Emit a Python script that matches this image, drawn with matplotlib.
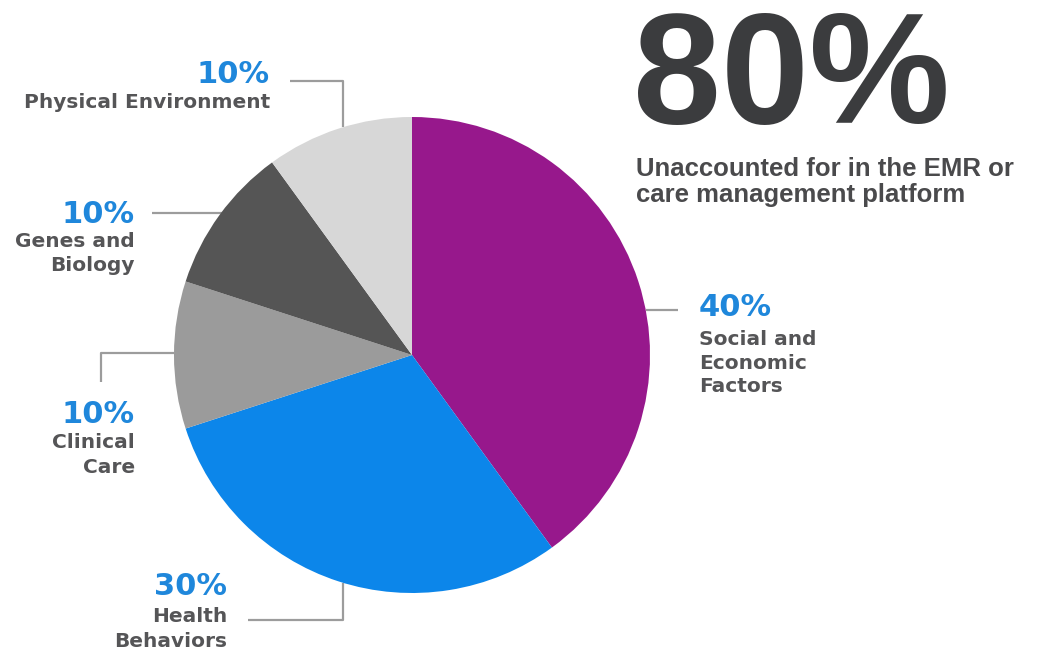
import math

import matplotlib

matplotlib.use("Agg")
import matplotlib.pyplot as plt

# ---- data ----
categories = ["Social and\nEconomic\nFactors", "Health\nBehaviors", "Clinical\nCare",
              "Genes and\nBiology", "Physical Environment"]
values = [40, 30, 10, 10, 10]
headline = "80%"
subtitle = ["Unaccounted for in the EMR or", "care management platform"]

COLORS = ["#97188c", "#0c86ea", "#9b9b9b", "#555555", "#d7d7d7"]
BLUE_TXT = "#1f87db"
GREY_TXT = "#555557"
LINE = "#9c9c9c"

W, H = 1044, 651
CX, CY, R = 412, 355, 238

# label layout (pixel space): (ha, x, pct baseline, line baselines)
LAYOUT = [
    ("left", 699, 316, [345, 369, 392]),
    ("right", 227, 595, [622, 647]),
    ("right", 135, 423, [448, 473]),
    ("right", 135, 223, [247, 271]),
    ("right", 270, 83, [108]),
]


def edge_y(x, lower):
    d = math.sqrt(R ** 2 - (x - CX) ** 2)
    return CY + d if lower else CY - d


def edge_x(y, right):
    d = math.sqrt(R ** 2 - (y - CY) ** 2)
    return CX + d if right else CX - d


# connector polylines, ending on the rim of the pie
CONNECTORS = [
    [(678, 310), (edge_x(310, True), 310)],
    [(248, 620), (343, 620), (343, edge_y(343, True))],
    [(101, 382), (101, 353), (edge_x(353, False), 353)],
    [(152, 213), (edge_x(213, False) + 4, 213)],
    [(290, 81), (343, 81), (343, edge_y(343, False))],
]

fig = plt.figure(figsize=(W / 100, H / 100), dpi=100)
ax = fig.add_axes([0, 0, 1, 1])

# y axis inverted -> startangle -90 is the top, counterclock=True runs clockwise on screen
ax.pie(values, colors=COLORS, startangle=-90, counterclock=True,
       center=(CX, CY), radius=R, wedgeprops=dict(linewidth=0))
ax.set_xlim(0, W)
ax.set_ylim(H, 0)
ax.set_aspect("equal")
ax.axis("off")

for pts in CONNECTORS:
    xs, ys = zip(*pts)
    ax.plot(xs, ys, color=LINE, lw=1.6, solid_capstyle="butt", zorder=0)

lab_font = dict(family="DejaVu Sans", fontweight="bold")
for cat, val, (ha, x, ypct, ylines) in zip(categories, values, LAYOUT):
    ax.text(x, ypct, f"{val}%", ha=ha, va="baseline", fontsize=22, color=BLUE_TXT, **lab_font)
    for line, yl in zip(cat.split("\n"), ylines):
        ax.text(x, yl, line, ha=ha, va="baseline", fontsize=14.5, color=GREY_TXT, **lab_font)

ax.text(633, 123, headline, ha="left", va="baseline", fontsize=114, fontweight="bold",
        family="Liberation Sans", color="#3b3c3e")
for line, yl in zip(subtitle, [176, 202]):
    ax.text(636, yl, line, ha="left", va="baseline", fontsize=18.5, fontweight="bold",
            family="Liberation Sans", color="#4a4a4c")

fig.savefig("out.png", dpi=100)
